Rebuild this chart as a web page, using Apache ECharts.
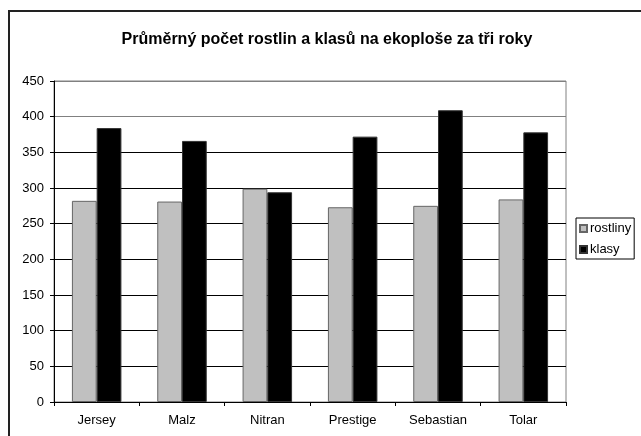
<!DOCTYPE html>
<html>
<head>
<meta charset="utf-8">
<script src="https://cdn.jsdelivr.net/npm/echarts@6/dist/echarts.min.js"></script>
<style>
  html, body { margin: 0; padding: 0; background: #fff; }
  #chart { width: 641px; height: 436px; }
</style>
</head>
<body>
<div id="chart"></div>
<script>
  // odrůdy
  let categories = ['Jersey', 'Malz', 'Nitran', 'Prestige', 'Sebastian', 'Tolar']
  // průměrný počet rostlin
  let rostliny = [282, 281, 299, 273, 275, 284]
  // průměrný počet klasů
  let klasy = [384, 366, 294, 372, 409, 378]
  let yTicks = [0, 50, 100, 150, 200, 250, 300, 350, 400, 450]

  let font = 'Arial, "Liberation Sans", sans-serif'
  // barvy mřížky, 400 a 450 jsou šedé
  let gridColors = yTicks.map(function (v) { return v >= 400 ? '#808080' : '#000' })

  let chart = echarts.init(document.getElementById('chart'))
  let option = {
    backgroundColor: '#fff',
    animation: false,
    textStyle: { fontFamily: font },
    title: {
      text: 'Průměrný počet rostlin a klasů na ekoploše za tři roky',
      left: 322,
      top: 27,
      textAlign: 'center',
      textStyle: { fontSize: 16, fontWeight: 'bold', color: '#000', fontFamily: font }
    },
    graphic: [{
      type: 'rect',
      shape: { x: 9, y: 11, width: 1000, height: 1000 },
      style: { fill: 'none', stroke: '#222', lineWidth: 2 },
      silent: true
    }],
    legend: {
      orient: 'vertical',
      left: 576,
      top: 218,
      padding: [4, 3, 3, 3],
      itemGap: 8,
      itemWidth: 7,
      itemHeight: 7,
      borderColor: '#000',
      borderWidth: 1,
      icon: 'rect',
      textStyle: { fontSize: 13, color: '#000', fontFamily: font, padding: [0, 0, 0, -2] },
      data: ['rostliny', 'klasy']
    },
    grid: {
      left: 54,
      top: 81,
      right: 75,
      bottom: 34,
      show: true,
      borderColor: '#808080',
      borderWidth: 1
    },
    xAxis: {
      type: 'category',
      data: categories,
      axisLine: { lineStyle: { color: '#000', width: 1 } },
      axisTick: { show: true, length: 4, alignWithLabel: false, lineStyle: { color: '#000' } },
      axisLabel: { color: '#000', fontSize: 13, margin: 12, fontFamily: font },
      splitLine: { show: false }
    },
    yAxis: {
      type: 'value',
      min: 0,
      max: 450,
      interval: 50,
      axisLine: { show: true, lineStyle: { color: '#000', width: 1 } },
      axisTick: { show: true, length: 4, lineStyle: { color: '#000' } },
      axisLabel: { color: '#000', fontSize: 13, margin: 10, fontFamily: font },
      splitLine: { show: true, lineStyle: { color: gridColors, width: 1 } }
    },
    series: [{
      name: 'rostliny',
      type: 'bar',
      data: rostliny,
      barGap: '0%',
      barCategoryGap: '42%',
      itemStyle: { color: '#c0c0c0', borderColor: '#666', borderWidth: 1 }
    }, {
      name: 'klasy',
      type: 'bar',
      data: klasy,
      itemStyle: { color: '#000', borderColor: '#333', borderWidth: 1 }
    }]
  }
  chart.setOption(option)
  window.onresize = chart.resize
</script>
</body>
</html>
